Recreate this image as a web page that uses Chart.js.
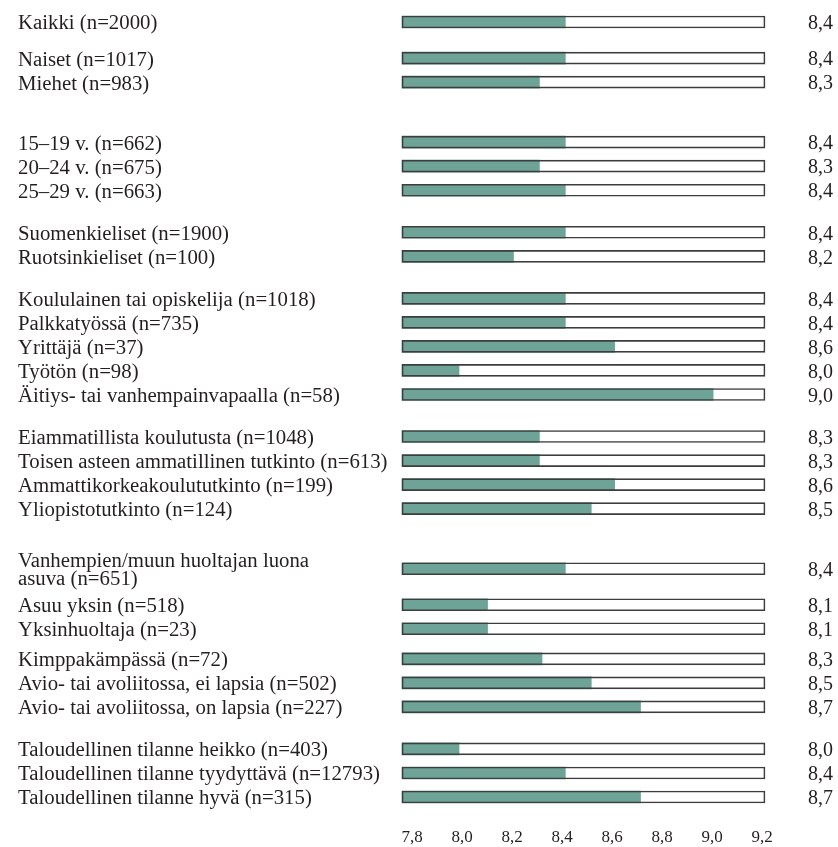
<!DOCTYPE html>
<html>
<head>
<meta charset="utf-8">
<script src="https://cdn.jsdelivr.net/npm/chart.js@4/dist/chart.umd.min.js"></script>
<style>
  html, body { margin: 0; padding: 0; background: #ffffff; }
  #wrap { width: 838px; height: 847px; position: relative; }
</style>
</head>
<body>
<div id="wrap"><canvas id="c"></canvas></div>
<script>
// ---- data ----
const categories = [
  "Kaikki (n=2000)",
  "Naiset (n=1017)",
  "Miehet (n=983)",
  "15–19 v. (n=662)",
  "20–24 v. (n=675)",
  "25–29 v. (n=663)",
  "Suomenkieliset (n=1900)",
  "Ruotsinkieliset (n=100)",
  "Koululainen tai opiskelija (n=1018)",
  "Palkkatyössä (n=735)",
  "Yrittäjä (n=37)",
  "Työtön (n=98)",
  "Äitiys- tai vanhempainvapaalla (n=58)",
  "Eiammatillista koulutusta (n=1048)",
  "Toisen asteen ammatillinen tutkinto (n=613)",
  "Ammattikorkeakoulututkinto (n=199)",
  "Yliopistotutkinto (n=124)",
  ["Vanhempien/muun huoltajan luona", "asuva (n=651)"],
  "Asuu yksin (n=518)",
  "Yksinhuoltaja (n=23)",
  "Kimppakämpässä (n=72)",
  "Avio- tai avoliitossa, ei lapsia (n=502)",
  "Avio- tai avoliitossa, on lapsia (n=227)",
  "Taloudellinen tilanne heikko (n=403)",
  "Taloudellinen tilanne tyydyttävä (n=12793)",
  "Taloudellinen tilanne hyvä (n=315)"
];
const values = [
  8.43,
  8.43, 8.33,
  8.43, 8.33, 8.43,
  8.43, 8.23,
  8.43, 8.43, 8.62, 8.02, 9.00,
  8.33, 8.33, 8.62, 8.53,
  8.43, 8.13, 8.13, 8.34, 8.53, 8.72,
  8.02, 8.43, 8.72
];
const tickValues = [7.8, 8.0, 8.2, 8.4, 8.6, 8.8, 9.0, 9.2];
const scaleMin = 7.8;
const scaleMax = 9.2;

// ---- layout: vertical distance to the next row, in sub-rows ----
const rowGaps = [6,4,10,4,4,7,4,7,4,4,4,4,7,4,4,4,10,6,4,5,4,4,7,4,4];

// expand rows into the category axis (spacer sub-rows are blank)
const yLabels = [], valueLabels = [], fillData = [], boxData = [];
categories.forEach((cat, i) => {
  yLabels.push(cat);
  valueLabels.push(values[i].toFixed(1).replace('.', ','));
  fillData.push([scaleMin, values[i]]);
  boxData.push([scaleMin, scaleMax]);
  if (i < rowGaps.length) {
    for (let k = 1; k < rowGaps[i]; k++) {
      yLabels.push('');
      valueLabels.push('');
      fillData.push(null);
      boxData.push(null);
    }
  }
});

const textColor = '#231f20';
const serif = 'Liberation Serif';

// value labels at the right of each bar row
const valueLabelPlugin = {
  id: 'valueLabels',
  afterDatasetsDraw(chart) {
    const { ctx, chartArea, scales } = chart;
    ctx.save();
    ctx.fillStyle = textColor;
    ctx.font = '20px "' + serif + '"';
    ctx.textAlign = 'left';
    ctx.textBaseline = 'middle';
    valueLabels.forEach((t, idx) => {
      if (!t) return;
      ctx.fillText(t, chartArea.right + 43, scales.y.getPixelForValue(idx) + 2);
    });
    ctx.restore();
  }
};

new Chart(document.getElementById('c'), {
  type: 'bar',
  data: {
    labels: yLabels,
    datasets: [
      { // outline (drawn last)
        data: boxData, order: 0, grouped: false, barThickness: 12, clip: false,
        backgroundColor: 'rgba(0,0,0,0)', borderColor: '#3d3d3d',
        borderWidth: 1, borderSkipped: false
      },
      { // value bar
        data: fillData, order: 1, grouped: false, barThickness: 12, clip: false,
        backgroundColor: '#6da497', borderWidth: 0
      },
      { // white track
        data: boxData, order: 2, grouped: false, barThickness: 12, clip: false,
        backgroundColor: '#ffffff', borderWidth: 0
      }
    ]
  },
  options: {
    indexAxis: 'y',
    responsive: true,
    maintainAspectRatio: false,
    animation: false,
    layout: { padding: { top: 22, left: 18, right: 73, bottom: 0 } },
    plugins: { legend: { display: false }, tooltip: { enabled: false } },
    scales: {
      x: {
        type: 'linear', min: scaleMin, max: scaleMax, display: false
      },
      xt: {
        type: 'linear', position: 'bottom', axis: 'x',
        min: 7.76, max: 9.212,
        grid: { display: false, drawTicks: false },
        border: { display: false },
        afterBuildTicks: (axis) => { axis.ticks = tickValues.map(v => ({ value: v })); },
        afterFit: (axis) => { axis.height = 50; },
        ticks: {
          autoSkip: false, maxRotation: 0, padding: 30,
          color: textColor,
          font: { family: serif, size: 17 },
          callback: (v) => Number(v).toFixed(1).replace('.', ',')
        }
      },
      y: {
        type: 'category', position: 'left', offset: false,
        grid: { display: false, drawTicks: false },
        border: { display: false },
        afterFit: (axis) => { axis.width = 384; },
        ticks: {
          autoSkip: false, crossAlign: 'far', labelOffset: 2, padding: 0,
          color: textColor,
          font: { family: serif, size: 20.8, lineHeight: 0.85 }
        }
      }
    }
  },
  plugins: [valueLabelPlugin]
});
</script>
</body>
</html>
